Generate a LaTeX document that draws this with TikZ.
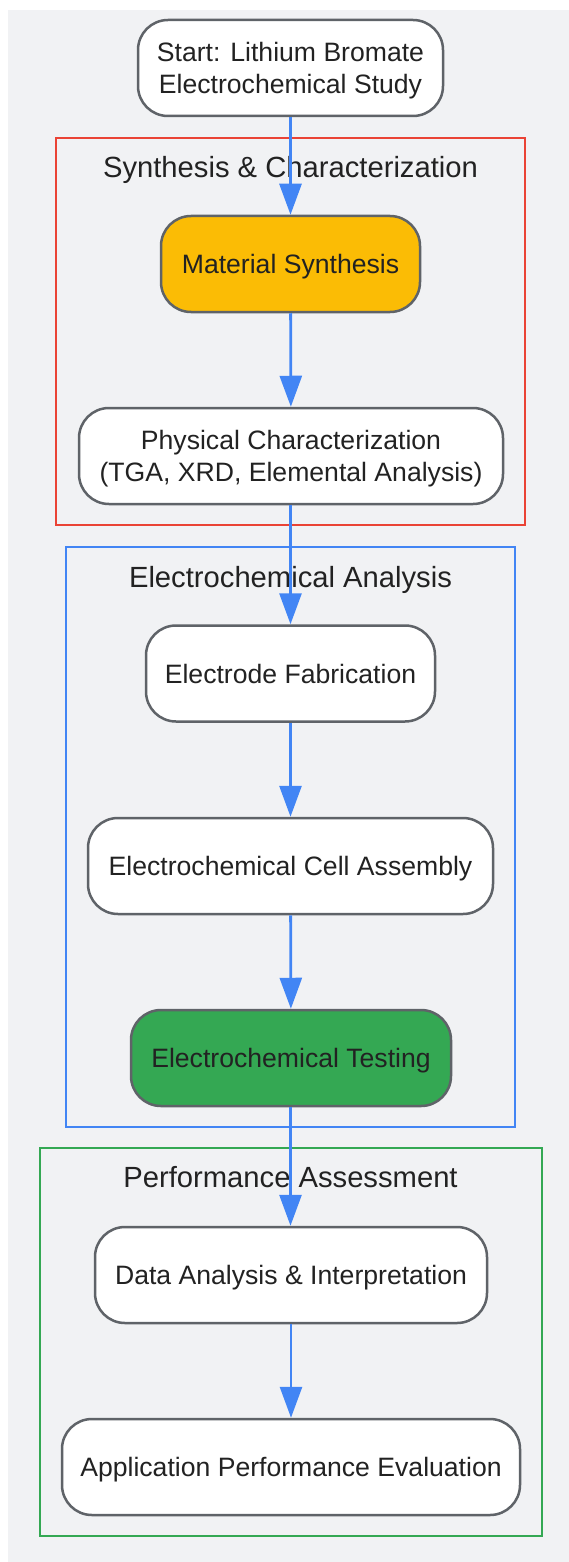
\documentclass[tikz,border=0pt]{standalone}
\usepackage{fontspec}
\setmainfont{Liberation Sans}
\usetikzlibrary{arrows.meta}
\definecolor{bgc}{HTML}{F1F2F4}
\definecolor{redc}{HTML}{EA4335}
\definecolor{bluec}{HTML}{4285F4}
\definecolor{greenc}{HTML}{34A853}
\definecolor{yellowc}{HTML}{FBBC05}
\definecolor{borderc}{HTML}{5F6368}
\definecolor{textc}{HTML}{222222}
\tikzset{
  proc/.style={draw=borderc, line width=2.5pt, fill=white, rounded corners=30pt,
    minimum height=96pt, inner sep=0pt, align=center, text=textc, text depth=0pt,
    font=\fontsize{26.6}{32}\selectfont},
  cluster/.style={line width=2pt},
  ctitle/.style={text=textc, font=\fontsize{29.2}{35}\selectfont, inner sep=0pt, text depth=0pt},
  arr/.style={draw=bluec, line width=2.8pt, -{Triangle[length=31pt,width=22pt]}}
}
\begin{document}
\begin{tikzpicture}[x=1pt,y=-1pt]
\useasboundingbox (0,0) rectangle (569,1562);
\fill[bgc] (8,10) rectangle (569,1562);
% clusters
\draw[cluster, draw=redc] (56,138) rectangle (525,525);
\draw[cluster, draw=bluec] (66,547) rectangle (515,1127);
\draw[cluster, draw=greenc] (40,1148) rectangle (542,1536);
\node[ctitle] (t1) at (290.5,167) {Synthesis \& Characterization};
\node[ctitle] (t2) at (290.5,577) {Electrochemical Analysis};
\node[ctitle] (t3) at (290.5,1177) {Performance Assessment};
% nodes
\node[proc, minimum width=305pt] (start) at (290.5,68) {Start: Lithium Bromate\\Electrochemical Study};
\node[proc, minimum width=259pt, fill=yellowc] (syn) at (290.5,264) {Material Synthesis};
\node[proc, minimum width=424pt] (phys) at (291,456) {Physical Characterization\\(TGA, XRD, Elemental Analysis)};
\node[proc, minimum width=289pt] (fab) at (290.5,673.5) {Electrode Fabrication};
\node[proc, minimum width=405pt] (cell) at (290.5,866) {Electrochemical Cell Assembly};
\node[proc, minimum width=320pt, fill=greenc] (test) at (291,1058) {Electrochemical Testing};
\node[proc, minimum width=392pt] (data) at (291,1275) {Data Analysis \& Interpretation};
\node[proc, minimum width=458pt] (app) at (291,1467) {Application Performance Evaluation};
% arrows
\draw[arr] (start.south -| 290.5,0) -- (syn.north -| 290.5,0);
\draw[arr] (syn) -- (phys);
\draw[arr] (phys.south -| 290.5,0) -- (fab.north -| 290.5,0);
\draw[arr] (fab) -- (cell);
\draw[arr] (cell) -- (test);
\draw[arr] (test.south -| 290.5,0) -- (data.north -| 290.5,0);
\draw[arr] (data) -- (app);
\end{tikzpicture}
\end{document}
